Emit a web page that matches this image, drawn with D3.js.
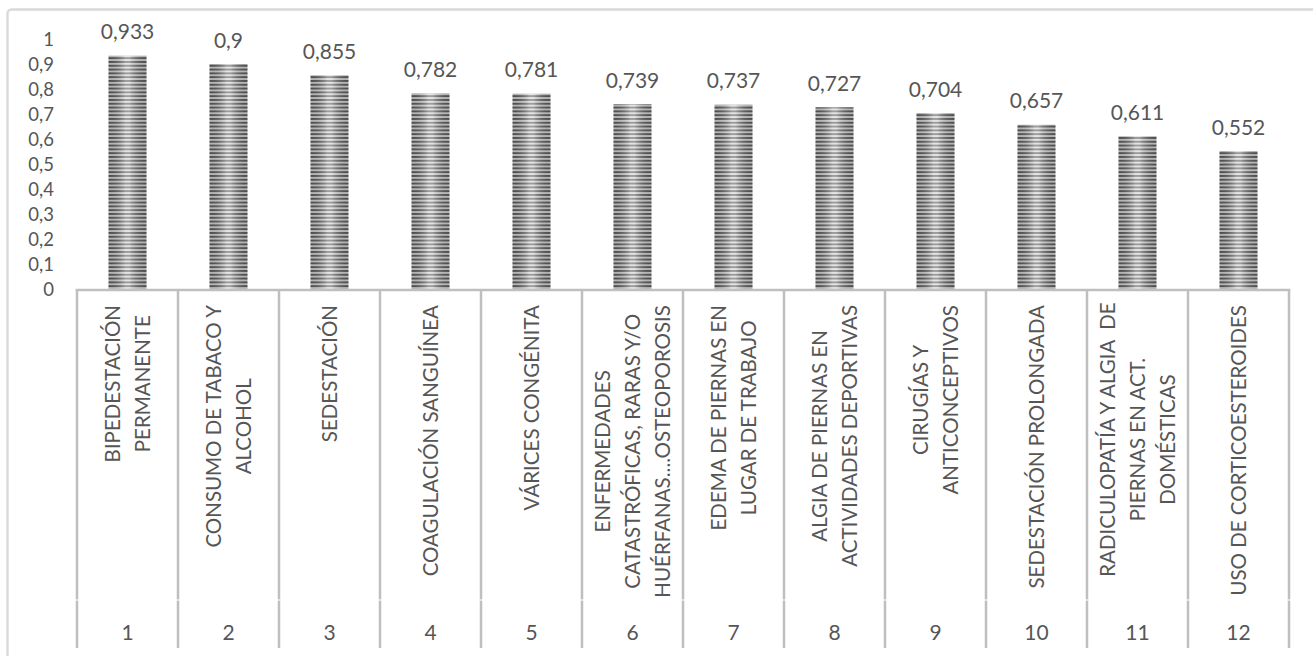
<!DOCTYPE html>
<html>
<head>
<meta charset="utf-8">
<script src="https://cdn.jsdelivr.net/npm/d3@7"></script>
<style>
  html, body { margin: 0; padding: 0; background: #ffffff; }
  svg { display: block; }
</style>
</head>
<body>
<svg id="chart" width="1313" height="656"></svg>
<script>
// ---- DATA ----
const categories = ["1", "2", "3", "4", "5", "6", "7", "8", "9", "10", "11", "12"];
const values = [0.933, 0.9, 0.855, 0.782, 0.781, 0.739, 0.737, 0.727, 0.704, 0.657, 0.611, 0.552];
const valueLabels = ["0,933", "0,9", "0,855", "0,782", "0,781", "0,739", "0,737", "0,727", "0,704", "0,657", "0,611", "0,552"];
const groupLabels = [
  ["BIPEDESTACIÓN", "PERMANENTE"],
  ["CONSUMO DE TABACO Y", "ALCOHOL"],
  ["SEDESTACIÓN"],
  ["COAGULACIÓN SANGUÍNEA"],
  ["VÁRICES CONGÉNITA"],
  ["ENFERMEDADES", "CATASTRÓFICAS, RARAS Y/O", "HUÉRFANAS....OSTEOPOROSIS"],
  ["EDEMA DE PIERNAS EN", "LUGAR DE TRABAJO"],
  ["ALGIA DE PIERNAS EN", "ACTIVIDADES DEPORTIVAS"],
  ["CIRUGÍAS Y", "ANTICONCEPTIVOS"],
  ["SEDESTACIÓN PROLONGADA"],
  ["RADICULOPATÍA Y ALGIA  DE", "PIERNAS EN ACT.", "DOMÉSTICAS"],
  ["USO DE CORTICOESTEROIDES"]
];
const yTicks = [0, 0.1, 0.2, 0.3, 0.4, 0.5, 0.6, 0.7, 0.8, 0.9, 1];
const yTickLabels = ["0", "0,1", "0,2", "0,3", "0,4", "0,5", "0,6", "0,7", "0,8", "0,9", "1"];

// ---- LAYOUT ----
const svg = d3.select("#chart");
const FONT = "Lato, 'Open Sans', sans-serif";
const TEXT = "#565656";
const AXIS = "#bfbfbf";
const x0 = 77, x1 = 1289;
const yZero = 289, yOne = 39;
const labelTop = 305, labelBottom = 600, axisBottom = 648;

const x = d3.scaleBand().domain(categories).range([x0, x1]).paddingInner(0).paddingOuter(0);
const barW = 38;
const y = d3.scaleLinear().domain([0, 1]).range([yZero, yOne]);

// outer border (only top/left visible in frame)
svg.append("rect")
  .attr("x", 7.5).attr("y", 9.5).attr("width", 1400).attr("height", 800)
  .attr("rx", 4).attr("fill", "none").attr("stroke", "#d9d9d9").attr("stroke-width", 2.4);

// ---- DEFS: stripe pattern + cylinder shading ----
const defs = svg.append("defs");
const pat = defs.append("pattern")
  .attr("id", "stripes").attr("patternUnits", "userSpaceOnUse")
  .attr("x", 0).attr("y", yZero).attr("width", 10).attr("height", 3.8);
pat.append("rect").attr("width", 10).attr("height", 3.8).attr("fill", "#d2d2d2");
pat.append("rect").attr("width", 10).attr("height", 1.9).attr("fill", "#5a5a5a");

const grad = defs.append("linearGradient").attr("id", "shade")
  .attr("x1", "0%").attr("x2", "100%").attr("y1", "0%").attr("y2", "0%");
grad.append("stop").attr("offset", "0%").attr("stop-color", "#000").attr("stop-opacity", 0.14);
grad.append("stop").attr("offset", "45%").attr("stop-color", "#fff").attr("stop-opacity", 0.4);
grad.append("stop").attr("offset", "55%").attr("stop-color", "#fff").attr("stop-opacity", 0.4);
grad.append("stop").attr("offset", "100%").attr("stop-color", "#000").attr("stop-opacity", 0.14);

// ---- Y tick labels ----
svg.append("g").selectAll("text").data(yTicks).join("text")
  .attr("x", 54).attr("y", d => y(d))
  .attr("dy", "0.36em")
  .attr("text-anchor", "end")
  .attr("font-family", FONT).attr("font-size", 18.5).attr("fill", TEXT)
  .text((d, i) => yTickLabels[i]);

// ---- Bars ----
const bars = svg.append("g");
const cx = c => x(c) + x.bandwidth() / 2;
bars.selectAll("rect.bar").data(values).join("rect")
  .attr("class", "bar")
  .attr("x", (d, i) => cx(categories[i]) - barW / 2)
  .attr("y", d => y(d))
  .attr("width", barW)
  .attr("height", d => yZero - y(d))
  .attr("fill", "url(#stripes)");
bars.selectAll("rect.shade").data(values).join("rect")
  .attr("class", "shade")
  .attr("x", (d, i) => cx(categories[i]) - barW / 2)
  .attr("y", d => y(d))
  .attr("width", barW)
  .attr("height", d => yZero - y(d))
  .attr("fill", "url(#shade)");

// ---- Data labels ----
svg.append("g").selectAll("text").data(values).join("text")
  .attr("x", (d, i) => cx(categories[i]))
  .attr("y", d => y(d) - 16.5)
  .attr("text-anchor", "middle")
  .attr("font-family", FONT).attr("font-size", 21).attr("fill", TEXT)
  .text((d, i) => valueLabels[i]);

// ---- Category axis (multi-level grid) ----
const axisG = svg.append("g").attr("stroke", AXIS).attr("stroke-width", 2.5).attr("fill", "none");
axisG.append("line").attr("x1", x0 - 1.25).attr("x2", x1 + 1.25).attr("y1", yZero + 1).attr("y2", yZero + 1);
const bounds = categories.map(c => x(c)).concat([x1]);
axisG.selectAll("line.v1").data(bounds).join("line").attr("class", "v1")
  .attr("x1", d => d).attr("x2", d => d).attr("y1", yZero).attr("y2", labelBottom - 0.5);
axisG.selectAll("line.v2").data(bounds).join("line").attr("class", "v2")
  .attr("x1", d => d).attr("x2", d => d).attr("y1", labelBottom + 0.5).attr("y2", axisBottom);
svg.append("g").selectAll("line").data(bounds).join("line")
  .attr("x1", d => d).attr("x2", d => d).attr("y1", labelBottom - 0.5).attr("y2", labelBottom + 0.5)
  .attr("stroke", "#e2e2e2").attr("stroke-width", 2.5);

// ---- Group labels (rotated, multi-line, top aligned) ----
const LFS = 20.5, LSP = 30;
const lblG = svg.append("g");
groupLabels.forEach((lines, i) => {
  const c = cx(categories[i]);
  const n = lines.length;
  const tmp = lblG.append("text").attr("font-family", FONT).attr("font-size", LFS);
  let maxLen = 0;
  lines.forEach(l => { tmp.text(l); maxLen = Math.max(maxLen, tmp.node().getComputedTextLength()); });
  tmp.remove();
  const midY = labelTop + maxLen / 2;
  lines.forEach((l, j) => {
    const lc = c + (j - (n - 1) / 2) * LSP;
    const bx = lc + 0.36 * LFS;
    lblG.append("text")
      .attr("transform", `translate(${bx},${midY}) rotate(-90)`)
      .attr("text-anchor", "middle")
      .attr("font-family", FONT).attr("font-size", LFS).attr("fill", TEXT)
      .attr("xml:space", "preserve")
      .text(l);
  });
});

// ---- Category numbers ----
svg.append("g").selectAll("text").data(categories).join("text")
  .attr("x", d => cx(d)).attr("y", 640)
  .attr("text-anchor", "middle")
  .attr("font-family", FONT).attr("font-size", 21).attr("fill", TEXT)
  .text(d => d);
</script>
</body>
</html>
